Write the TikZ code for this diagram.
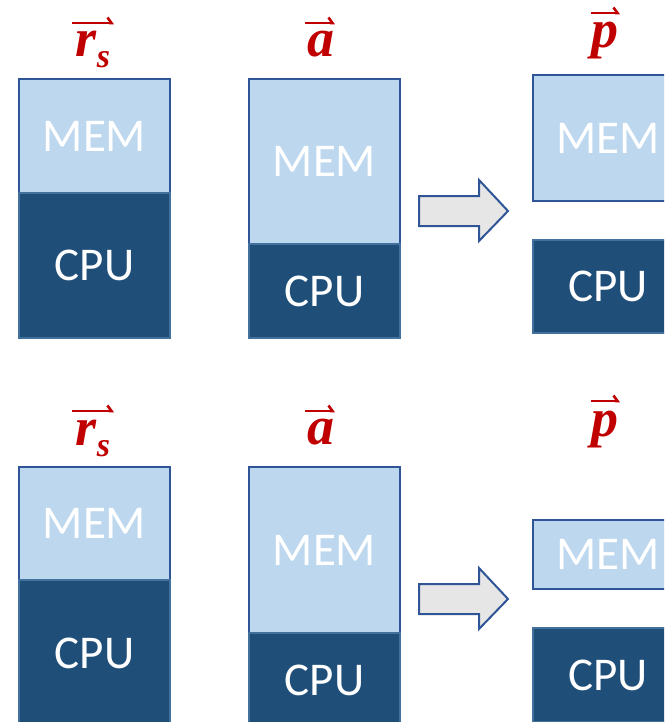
\documentclass[tikz,border=0pt]{standalone}
\usepackage{fontspec}
\usetikzlibrary{arrows.meta}
\newfontfamily\boxfont{Carlito}
\newfontfamily\lblfont{Liberation Serif}
\definecolor{memfill}{HTML}{BDD7EE}
\definecolor{cpufill}{HTML}{1F4E79}
\definecolor{edge}{HTML}{2F5597}
\definecolor{cpuedge}{HTML}{41719C}
\definecolor{arrowfill}{HTML}{E6E6E6}
\definecolor{lblred}{HTML}{C00000}
\newcommand{\subs}[1]{\raisebox{-11pt}{\fontsize{34}{34}\selectfont #1}}
\tikzset{
  membox/.style={draw=edge, fill=memfill, line width=2pt, rectangle, inner sep=0pt, anchor=north west, text=white, font=\boxfont\fontsize{47}{47}\selectfont},
  cpubox/.style={draw=cpuedge, fill=cpufill, line width=2pt, rectangle, inner sep=0pt, anchor=north west, text=white, font=\boxfont\fontsize{47}{47}\selectfont},
  vlabel/.style={anchor=base, text=lblred, inner sep=0pt, font=\lblfont\bfseries\itshape\fontsize{54}{54}\selectfont},
  vecarrow/.style={draw=lblred, line width=2.6pt, -{Straight Barb[harpoon, length=4pt, width=11pt]}},
  blockarrow/.style={draw=edge, fill=arrowfill, line width=2pt, line join=miter}
}
\begin{document}
\begin{tikzpicture}[x=1pt,y=-1pt]
\useasboundingbox (0,0) rectangle (664,722);
\begin{scope}
\clip (0,0) rectangle (664,722);
% top row
\node[membox, minimum width=151pt, minimum height=114pt] (m1) at (18,78) {MEM};
\node[cpubox, minimum width=151pt, minimum height=145pt] (c1) at (18,192) {CPU};
\node[membox, minimum width=151pt, minimum height=165pt] (m2) at (248,78) {MEM};
\node[cpubox, minimum width=151pt, minimum height=94pt] (c2) at (248,243) {CPU};
\node[membox, minimum width=150pt, minimum height=126pt] (m3) at (532,74) {MEM};
\node[cpubox, minimum width=150pt, minimum height=93pt] (c3) at (532,239) {CPU};
\draw[blockarrow] (419,196) -- (479,196) -- (479,180) -- (508,211) -- (479,241) -- (479,226) -- (419,226) -- cycle;
\node[vlabel] (l1) at (93,57) {r\subs{s}};
\node[vlabel] (l2) at (321,57) {a};
\node[vlabel] (l3) at (605,48) {p};
\draw[vecarrow] (72,23) -- (114,23);
\draw[vecarrow] (305,23) -- (335,23);
\draw[vecarrow] (591,13) -- (620,13);
% bottom row
\node[membox, minimum width=151pt, minimum height=113pt] (m4) at (18,466) {MEM};
\node[cpubox, minimum width=151pt, minimum height=146pt] (c4) at (18,579) {CPU};
\node[membox, minimum width=151pt, minimum height=166pt] (m5) at (248,466) {MEM};
\node[cpubox, minimum width=151pt, minimum height=94pt] (c5) at (248,632) {CPU};
\node[membox, minimum width=150pt, minimum height=69pt] (m6) at (532,519) {MEM};
\node[cpubox, minimum width=150pt, minimum height=94pt] (c6) at (532,627) {CPU};
\draw[blockarrow] (419,584) -- (479,584) -- (479,568) -- (508,599) -- (479,629) -- (479,614) -- (419,614) -- cycle;
\node[vlabel] (l4) at (93,445) {r\subs{s}};
\node[vlabel] (l5) at (321,444) {a};
\node[vlabel] (l6) at (605,436) {p};
\draw[vecarrow] (72,411) -- (114,411);
\draw[vecarrow] (305,411) -- (335,411);
\draw[vecarrow] (591,401) -- (620,401);
\end{scope}
\end{tikzpicture}
\end{document}
